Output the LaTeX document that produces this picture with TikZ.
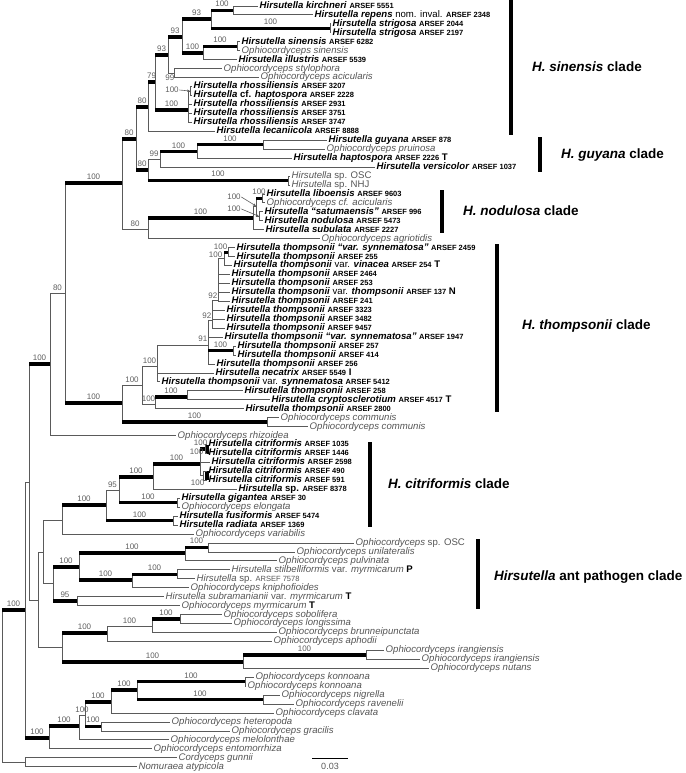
\documentclass[tikz,border=0pt]{standalone}
\definecolor{treeGray}{RGB}{90,90,90}
\definecolor{ophioGray}{RGB}{85,85,85}
\definecolor{supGray}{RGB}{95,95,95}
\usepackage{fontspec}
\setmainfont{Liberation Sans}
\usetikzlibrary{arrows.meta}
\newcommand{\hb}[1]{\textbf{\textit{#1}}}
\newcommand{\arsef}[1]{{\fontsize{7.5}{8}\selectfont\bfseries #1}}
\newcommand{\oph}[1]{{\color{ophioGray}\itshape #1}}
\newcommand{\gry}[1]{{\color{ophioGray}#1}}

\begin{document}
\begin{tikzpicture}[x=1pt, y=-1pt,
    br/.style={draw=treeGray, line width=0.9pt},
    thk/.style={draw=black, line width=3.2pt},
    leaf/.style={anchor=west, inner xsep=1.5pt, inner ysep=0pt, text height=6.8pt, text depth=2pt,
                 font=\fontsize{9.6}{10}\selectfont},
    bs/.style={font=\fontsize{8}{8}\selectfont, text=supGray, inner sep=0.5pt},
    lab/.style={bs, above=1.4pt},
    cladebar/.style={draw=black, line width=4pt},
    cladelab/.style={anchor=west, inner sep=0pt, font=\fontsize{13.5}{14}\selectfont\bfseries}
  ]
  \useasboundingbox (0,0) rectangle (685,773);

  % internal nodes
  \coordinate (root) at (2,685);   \coordinate (n1) at (25,610);    \coordinate (og) at (25,762);
  \coordinate (n2) at (29,482);    \coordinate (kon) at (49,738);   \coordinate (nB) at (50,364);
  \coordinate (nX) at (38,600);    \coordinate (nC) at (65,293);    \coordinate (nS) at (122,183);
  \coordinate (nTh) at (122,403);  \coordinate (n80a) at (136,139); \coordinate (nNod) at (148,229);
  \coordinate (n80b) at (148,107); \coordinate (nGuy) at (148,170); \coordinate (n79) at (155,82);
  \coordinate (nRho) at (188,110); \coordinate (n93a) at (168,55);  \coordinate (n93b) at (182,37);
  \coordinate (n99) at (174,73);   \coordinate (n93c) at (211,19);  \coordinate (n100s) at (203,53);
  \coordinate (nKir) at (233,10.5);\coordinate (nStr) at (330,28.4);\coordinate (nSin) at (237,46.3);
  \coordinate (nRh2) at (190,91);  \coordinate (n99g) at (160,159); \coordinate (nOSC) at (288,180.5);
  \coordinate (n100g) at (197,151.7); \coordinate (nGP) at (263,144.7);
  \coordinate (nN1) at (253,218);  \coordinate (nN2) at (256,206);  \coordinate (nN3) at (262,198.4);
  \coordinate (nN4) at (259,216.3);
  \coordinate (nT0) at (142,385);  \coordinate (nCom) at (267,422); \coordinate (nT) at (157,366);
  \coordinate (nT2) at (155,404);  \coordinate (nCry) at (187,397); \coordinate (n91) at (208,345);
  \coordinate (n92b) at (212,320); \coordinate (n257) at (233,350.6); \coordinate (n92a) at (218,300);
  \coordinate (nVin) at (224,258); \coordinate (nTop) at (228,252.1);
  \coordinate (n43) at (43,552);   \coordinate (n62b) at (62,647);  \coordinate (nCit) at (62,520);
  \coordinate (nAnt) at (53,583);  \coordinate (n106) at (106,505); \coordinate (n95) at (119,490);
  \coordinate (nFus) at (173,520.6); \coordinate (n153) at (153,477); \coordinate (nGig) at (177,502.7);
  \coordinate (n200) at (200,464); \coordinate (nC1) at (205,449);  \coordinate (nC2) at (203,475.9);
  \coordinate (n79a) at (79,567);  \coordinate (n95a) at (77,601);  \coordinate (n185) at (185,553);
  \coordinate (n132) at (132,580); \coordinate (nOSC2) at (208,547.5); \coordinate (n177) at (177,574.3);
  \coordinate (n107) at (107,633); \coordinate (n243) at (243,662); \coordinate (n152) at (152,626);
  \coordinate (n180) at (180,619); \coordinate (n366) at (366,654.9);
  \coordinate (n79k) at (79,726);  \coordinate (n85) at (85,715);   \coordinate (n111) at (111,702);
  \coordinate (n101) at (101,726.5); \coordinate (n137) at (137,690); \coordinate (nKon) at (245,681.7);
  \coordinate (nNig) at (263,699.6);

  % leaves: H. sinensis clade
  \node[leaf] (kirch) at (258,6) {\hb{Hirsutella kirchneri} \arsef{ARSEF 5551}};
  \node[leaf] (repens) at (313,14.95) {\hb{Hirsutella repens} nom. inval. \arsef{ARSEF 2348}};
  \node[leaf] (str1) at (331,23.9) {\hb{Hirsutella strigosa} \arsef{ARSEF 2044}};
  \node[leaf] (str2) at (331,32.85) {\hb{Hirsutella strigosa} \arsef{ARSEF 2197}};
  \node[leaf] (hsin) at (240,41.8) {\hb{Hirsutella sinensis} \arsef{ARSEF 6282}};
  \node[leaf] (osin) at (240,50.75) {\oph{Ophiocordyceps sinensis}};
  \node[leaf] (illu) at (237,59.7) {\hb{Hirsutella illustris} \arsef{ARSEF 5539}};
  \node[leaf] (styl) at (222,68.65) {\oph{Ophiocordyceps stylophora}};
  \node[leaf] (acic) at (259,77.6) {\oph{Ophiocordyceps acicularis}};
  \node[leaf] (rho1) at (192,86.55) {\hb{Hirsutella rhossiliensis} \arsef{ARSEF 3207}};
  \node[leaf] (chap) at (192,95.5) {\hb{Hirsutella} \textbf{cf.} \hb{haptospora} \arsef{ARSEF 2228}};
  \node[leaf] (rho2) at (192,104.45) {\hb{Hirsutella rhossiliensis} \arsef{ARSEF 2931}};
  \node[leaf] (rho3) at (192,113.4) {\hb{Hirsutella rhossiliensis} \arsef{ARSEF 3751}};
  \node[leaf] (rho4) at (192,122.35) {\hb{Hirsutella rhossiliensis} \arsef{ARSEF 3747}};
  \node[leaf] (leca) at (215,131.3) {\hb{Hirsutella lecaniicola} \arsef{ARSEF 8888}};
  % leaves: H. guyana clade
  \node[leaf] (guy) at (327,140.25) {\hb{Hirsutella guyana} \arsef{ARSEF 878}};
  \node[leaf] (prui) at (325,149.2) {\oph{Ophiocordyceps pruinosa}};
  \node[leaf] (hapt) at (292,158.15) {\hb{Hirsutella haptospora} \arsef{ARSEF 2226} \textbf{T}};
  \node[leaf] (vers) at (375,167.1) {\hb{Hirsutella versicolor} \arsef{ARSEF 1037}};
  \node[leaf] (hosc) at (290,176.05) {\gry{\textit{Hirsutella} sp. OSC}};
  \node[leaf] (hnhj) at (290,185) {\gry{\textit{Hirsutella} sp. NHJ}};
  % leaves: H. nodulosa clade
  \node[leaf] (libo) at (265,193.95) {\hb{Hirsutella liboensis} \arsef{ARSEF 9603}};
  \node[leaf] (oaci) at (265,202.9) {\oph{Ophiocordyceps cf. acicularis}};
  \node[leaf] (satu) at (263,211.85) {\hb{Hirsutella “satumaensis”} \arsef{ARSEF 996}};
  \node[leaf] (nodu) at (263,220.8) {\hb{Hirsutella nodulosa} \arsef{ARSEF 5473}};
  \node[leaf] (subu) at (264,229.75) {\hb{Hirsutella subulata} \arsef{ARSEF 2227}};
  \node[leaf] (agri) at (320,238.7) {\oph{Ophiocordyceps agriotidis}};
  % leaves: H. thompsonii clade
  \node[leaf] (th2459) at (235,247.65) {\hb{Hirsutella thompsonii “var. synnematosa”} \arsef{ARSEF 2459}};
  \node[leaf] (th255) at (235,256.6) {\hb{Hirsutella thompsonii} \arsef{ARSEF 255}};
  \node[leaf] (vina) at (232,265.55) {\hb{Hirsutella thompsonii} var. \hb{vinacea} \arsef{ARSEF 254} \textbf{T}};
  \node[leaf] (th2464) at (230,274.5) {\hb{Hirsutella thompsonii} \arsef{ARSEF 2464}};
  \node[leaf] (th253) at (230,283.45) {\hb{Hirsutella thompsonii} \arsef{ARSEF 253}};
  \node[leaf] (th137) at (230,292.4) {\hb{Hirsutella thompsonii} var. \hb{thompsonii} \arsef{ARSEF 137} \textbf{N}};
  \node[leaf] (th241) at (230,301.35) {\hb{Hirsutella thompsonii} \arsef{ARSEF 241}};
  \node[leaf] (th3323) at (225,310.3) {\hb{Hirsutella thompsonii} \arsef{ARSEF 3323}};
  \node[leaf] (th3482) at (225,319.25) {\hb{Hirsutella thompsonii} \arsef{ARSEF 3482}};
  \node[leaf] (th9457) at (225,328.2) {\hb{Hirsutella thompsonii} \arsef{ARSEF 9457}};
  \node[leaf] (th1947) at (223,337.15) {\hb{Hirsutella thompsonii “var. synnematosa”} \arsef{ARSEF 1947}};
  \node[leaf] (th257) at (236,346.1) {\hb{Hirsutella thompsonii} \arsef{ARSEF 257}};
  \node[leaf] (th414) at (236,355.05) {\hb{Hirsutella thompsonii} \arsef{ARSEF 414}};
  \node[leaf] (th256) at (215,364) {\hb{Hirsutella thompsonii} \arsef{ARSEF 256}};
  \node[leaf] (neca) at (214,372.95) {\hb{Hirsutella necatrix} \arsef{ARSEF 5549} \textbf{I}};
  \node[leaf] (th5412) at (160,381.9) {\hb{Hirsutella thompsonii} var. \hb{synnematosa} \arsef{ARSEF 5412}};
  \node[leaf] (th258) at (243,390.85) {\hb{Hirsutella thompsonii} \arsef{ARSEF 258}};
  \node[leaf] (cryp) at (270,399.8) {\hb{Hirsutella cryptosclerotium} \arsef{ARSEF 4517} \textbf{T}};
  \node[leaf] (th2800) at (244,408.75) {\hb{Hirsutella thompsonii} \arsef{ARSEF 2800}};
  \node[leaf] (com1) at (279,417.7) {\oph{Ophiocordyceps communis}};
  \node[leaf] (com2) at (308,426.65) {\oph{Ophiocordyceps communis}};
  \node[leaf] (rhiz) at (176,435.6) {\oph{Ophiocordyceps rhizoidea}};
  % leaves: H. citriformis clade
  \node[leaf] (ci1035) at (207,444.55) {\hb{Hirsutella citriformis} \arsef{ARSEF 1035}};
  \node[leaf] (ci1446) at (207,453.5) {\hb{Hirsutella citriformis} \arsef{ARSEF 1446}};
  \node[leaf] (ci2598) at (210,462.45) {\hb{Hirsutella citriformis} \arsef{ARSEF 2598}};
  \node[leaf] (ci490) at (207,471.4) {\hb{Hirsutella citriformis} \arsef{ARSEF 490}};
  \node[leaf] (ci591) at (207,480.35) {\hb{Hirsutella citriformis} \arsef{ARSEF 591}};
  \node[leaf] (hsp8378) at (237,489.3) {\hb{Hirsutella} \textbf{sp.} \arsef{ARSEF 8378}};
  \node[leaf] (giga) at (180,498.25) {\hb{Hirsutella gigantea} \arsef{ARSEF 30}};
  \node[leaf] (elon) at (180,507.2) {\oph{Ophiocordyceps elongata}};
  \node[leaf] (fusi) at (178,516.15) {\hb{Hirsutella fusiformis} \arsef{ARSEF 5474}};
  \node[leaf] (radi) at (178,525.1) {\hb{Hirsutella radiata} \arsef{ARSEF 1369}};
  \node[leaf] (vari) at (194,534.05) {\oph{Ophiocordyceps variabilis}};
  % leaves: ant pathogens
  \node[leaf] (oosc) at (354,543) {\gry{\textit{Ophiocordyceps} sp. OSC}};
  \node[leaf] (unil) at (295,551.95) {\oph{Ophiocordyceps unilateralis}};
  \node[leaf] (pulv) at (277,560.9) {\oph{Ophiocordyceps pulvinata}};
  \node[leaf] (stil) at (230,569.85) {\gry{\textit{Hirsutella stilbelliformis} var. \textit{myrmicarum}} \textbf{P}};
  \node[leaf] (hsp7578) at (195,578.8) {\gry{\textit{Hirsutella} sp. {\fontsize{7.5}{8}\selectfont ARSEF 7578}}};
  \node[leaf] (knip) at (189,587.75) {\oph{Ophiocordyceps kniphofioides}};
  \node[leaf] (subr) at (164,596.7) {\gry{\textit{Hirsutella subramanianii} var. \textit{myrmicarum}} \textbf{T}};
  \node[leaf] (myrm) at (180,605.65) {\oph{Ophiocordyceps myrmicarum} \textbf{T}};
  % leaves: remaining Ophiocordyceps
  \node[leaf] (sobo) at (222,614.6) {\oph{Ophiocordyceps sobolifera}};
  \node[leaf] (long) at (232,623.55) {\oph{Ophiocordyceps longissima}};
  \node[leaf] (brun) at (277,632.5) {\oph{Ophiocordyceps brunneipunctata}};
  \node[leaf] (apho) at (272,641.45) {\oph{Ophiocordyceps aphodii}};
  \node[leaf] (ira1) at (384,650.4) {\oph{Ophiocordyceps irangiensis}};
  \node[leaf] (ira2) at (420,659.35) {\oph{Ophiocordyceps irangiensis}};
  \node[leaf] (nuta) at (429,668.3) {\oph{Ophiocordyceps nutans}};
  \node[leaf] (kon1) at (254,677.25) {\oph{Ophiocordyceps konnoana}};
  \node[leaf] (kon2) at (246,686.2) {\oph{Ophiocordyceps konnoana}};
  \node[leaf] (nigr) at (280,695.15) {\oph{Ophiocordyceps nigrella}};
  \node[leaf] (rave) at (294,704.1) {\oph{Ophiocordyceps ravenelii}};
  \node[leaf] (clav) at (274,713.05) {\oph{Ophiocordyceps clavata}};
  \node[leaf] (hete) at (170,722) {\oph{Ophiocordyceps heteropoda}};
  \node[leaf] (grac) at (230,730.95) {\oph{Ophiocordyceps gracilis}};
  \node[leaf] (melo) at (169,739.9) {\oph{Ophiocordyceps melolonthae}};
  \node[leaf] (ento) at (152,748.85) {\oph{Ophiocordyceps entomorrhiza}};
  \node[leaf] (gunn) at (177,757.8) {\oph{Cordyceps gunnii}};
  \node[leaf] (nomu) at (137,766.75) {\oph{Nomuraea atypicola}};

  % backbone
  \draw[br] (root) |- (n1); \draw[thk] (root |- n1) -- node[lab]{100} (n1);
  \draw[br] (root) |- (og); \draw[br] (og) |- (gunn.west); \draw[br] (og) |- (nomu.west);
  \draw[br] (n1) |- (n2);
  \draw[br] (n1) |- (kon); \draw[thk] (n1 |- kon) -- node[lab]{100} (kon);
  \draw[br] (n2) |- (nB); \draw[thk] (n2 |- nB) -- node[lab]{100} (nB);
  \draw[br] (n2) |- (nX);
  \draw[br] (nB) |- node[lab, pos=.75]{80} (nC); \draw[br] (nB) |- (rhiz.west);
  \draw[br] (nC) |- (nS); \draw[thk] (nC |- nS) -- node[lab]{100} (nS);
  \draw[br] (nC) |- (nTh); \draw[thk] (nC |- nTh) -- node[lab]{100} (nTh);

  % sinensis / guyana / nodulosa
  \draw[br] (nS) |- (n80a); \draw[thk] (nS |- n80a) -- node[lab]{80} (n80a);
  \draw[br] (nS) |- node[lab, pos=.75]{80} (nNod);
  \draw[br] (n80a) |- (n80b); \draw[thk] (n80a |- n80b) -- node[lab]{80} (n80b);
  \draw[br] (n80a) |- (nGuy); \draw[thk] (n80a |- nGuy) -- node[lab]{80} (nGuy);
  \draw[br] (n80b) |- (n79); \draw[thk] (n80b |- n79) -- node[lab]{79} (n79);
  \draw[br] (n80b) |- (leca.west);
  \draw[br] (n79) |- (n93a); \draw[thk] (n79 |- n93a) -- node[lab]{93} (n93a);
  \draw[br] (n79) |- (nRho); \draw[thk] (n79 |- nRho) -- node[lab]{100} (nRho);
  \draw[br] (n93a) |- (n93b); \draw[thk] (n93a |- n93b) -- node[lab]{93} (n93b);
  \draw[br] (n93a) |- (n99); \node[bs, anchor=north east] (l99) at (175,74.5) {99};
  \draw[br] (n93b) |- (n93c); \draw[thk] (n93b |- n93c) -- node[lab]{93} (n93c);
  \draw[br] (n93b) |- (n100s); \draw[thk] (n93b |- n100s) -- node[lab]{100} (n100s);
  \draw[br] (n93c) |- (nKir); \draw[thk] (n93c |- nKir) -- node[lab]{100} (nKir);
  \draw[br] (n93c) |- (nStr); \draw[thk] (n93c |- nStr) -- node[lab]{100} (nStr);
  \draw[br] (nKir) |- (kirch.west); \draw[br] (nKir) |- (repens.west);
  \draw[br] (nStr) |- (str1.west); \draw[br] (nStr) |- (str2.west);
  \draw[br] (n100s) |- (nSin); \draw[thk] (n100s |- nSin) -- node[lab]{100} (nSin);
  \draw[br] (n100s) |- (illu.west);
  \draw[br] (nSin) |- (hsin.west); \draw[br] (nSin) |- (osin.west);
  \draw[br] (n99) |- (styl.west); \draw[br] (n99) |- (acic.west);
  \draw[br] (nRho) |- (nRh2); \draw[br] (nRho) |- (rho2.west); \draw[br] (nRho) |- (rho3.west);
  \draw[br] (nRho) |- (rho4.west);
  \draw[br] (nRh2) |- (rho1.west); \draw[br] (nRh2) |- (chap.west);
  \node[bs] (lrho) at (172,90) {100};
  \draw[-{Stealth[length=3pt,width=2.5pt]}, supGray, line width=0.6pt] (lrho.east) -- (nRh2);
  \draw[br] (nGuy) |- node[lab, pos=.75]{99} (n99g);
  \draw[br] (nGuy) |- (nOSC); \draw[thk] (nGuy |- nOSC) -- node[lab]{100} (nOSC);
  \draw[br] (n99g) |- (n100g); \draw[thk] (n99g |- n100g) -- node[lab]{100} (n100g);
  \draw[br] (n99g) |- (vers.west);
  \draw[br] (n100g) |- (nGP); \draw[thk] (n100g |- nGP) -- node[lab]{100} (nGP);
  \draw[br] (n100g) |- (hapt.west);
  \draw[br] (nGP) |- (guy.west); \draw[br] (nGP) |- (prui.west);
  \draw[br] (nOSC) |- (hosc.west); \draw[br] (nOSC) |- (hnhj.west);
  \draw[br] (nNod) |- (nN1); \draw[thk] (nNod |- nN1) -- node[lab]{100} (nN1);
  \draw[br] (nNod) |- (agri.west);
  \draw[br] (nN1) |- (nN2); \draw[br] (nN1) |- (subu.west);
  \draw[br] (nN2) |- (nN3); \draw[thk] (nN2 |- nN3) -- node[lab]{100} (nN3);
  \draw[br] (nN2) |- (nN4);
  \draw[br] (nN3) |- (libo.west); \draw[br] (nN3) |- (oaci.west);
  \draw[br] (nN4) |- (satu.west); \draw[br] (nN4) |- (nodu.west);
  \node[bs] (lnod1) at (234,197) {100}; \node[bs] (lnod2) at (234,209) {100};
  \draw[-{Stealth[length=3pt,width=2.5pt]}, supGray, line width=0.6pt] (lnod1.east) -- (nN2);
  \draw[-{Stealth[length=3pt,width=2.5pt]}, supGray, line width=0.6pt] (lnod2.east) -- (nN4);

  % thompsonii
  \draw[br] (nTh) |- node[lab, pos=.75]{100} (nT0);
  \draw[br] (nTh) |- (nCom); \draw[thk] (nTh |- nCom) -- node[lab]{100} (nCom);
  \draw[br] (nCom) |- (com1.west); \draw[br] (nCom) |- (com2.west);
  \draw[br] (nT0) |- node[lab, pos=.75]{100} (nT);
  \draw[br] (nT0) |- node[lab, pos=.75]{100} (nT2);
  \draw[br] (nT2) |- (nCry); \draw[thk] (nT2 |- nCry) -- node[bs, above=1.2pt]{100} (nCry);
  \draw[br] (nT2) |- (th2800.west);
  \draw[br] (nCry) |- (th258.west); \draw[br] (nCry) |- (cryp.west);
  \draw[br] (nT) |- (n91); \draw[br] (nT) |- (neca.west); \draw[br] (nT) |- (th5412.west);
  \node[bs, anchor=south east] (l91) at (208,342) {91};
  \draw[br] (n91) |- (n92b); \node[bs, anchor=south east] (l92b) at (212,319) {92};
  \draw[br] (n91) |- (th1947.west); \draw[br] (n91) |- (th256.west);
  \draw[br] (n91) |- (n257); \draw[thk] (n91 |- n257) -- node[lab]{100} (n257);
  \draw[br] (n257) |- (th257.west); \draw[br] (n257) |- (th414.west);
  \draw[br] (n92b) |- (n92a); \node[bs, anchor=south east] (l92a) at (218,299) {92};
  \draw[br] (n92b) |- (th3323.west); \draw[br] (n92b) |- (th3482.west); \draw[br] (n92b) |- (th9457.west);
  \draw[br] (n92a) |- (nVin); \draw[br] (n92a) |- (th2464.west); \draw[br] (n92a) |- (th253.west);
  \draw[br] (n92a) |- (th137.west); \draw[br] (n92a) |- (th241.west);
  \draw[br] (nVin) |- (nTop); \draw[thk] (nVin |- nTop) -- (nTop); \draw[br] (nVin) |- (vina.west);
  \draw[br] (nTop) |- (th2459.west); \draw[br] (nTop) |- (th255.west);
  \node[bs, anchor=south east] (ltop) at (228,250) {100};
  \node[bs, anchor=south east] (lvin) at (223,258) {100};

  % citriformis
  \draw[br] (nX) |- (n43); \draw[br] (nX) |- (n62b);
  \draw[br] (n43) |- (nCit); \draw[br] (n43) |- (nAnt);
  \draw[br] (nCit) |- (n106); \draw[thk] (nCit |- n106) -- node[lab]{100} (n106);
  \draw[br] (nCit) |- (vari.west);
  \draw[br] (n106) |- node[lab, pos=.75]{95} (n95);
  \draw[br] (n106) |- (nFus); \draw[thk] (n106 |- nFus) -- node[lab]{100} (nFus);
  \draw[br] (nFus) |- (fusi.west); \draw[br] (nFus) |- (radi.west);
  \draw[br] (n95) |- (n153); \draw[thk] (n95 |- n153) -- node[lab]{100} (n153);
  \draw[br] (n95) |- (nGig); \draw[thk] (n95 |- nGig) -- node[lab]{100} (nGig);
  \draw[br] (nGig) |- (giga.west); \draw[br] (nGig) |- (elon.west);
  \draw[br] (n153) |- (n200); \draw[thk] (n153 |- n200) -- node[lab]{100} (n200);
  \draw[br] (n153) |- (hsp8378.west);
  \draw[br] (n200) |- (nC1); \draw[thk] (n200 |- nC1) -- (nC1);
  \draw[br] (n200) |- (ci2598.west); \draw[br] (n200) |- (nC2);
  \draw[thk] (ci1035.west) -- (ci1446.west);
  \draw[br] (nC1) |- (ci1035.west); \draw[br] (nC1) |- (ci1446.west);
  \draw[thk] (ci490.west) -- (ci591.west);
  \draw[br] (nC2) |- (ci490.west); \draw[br] (nC2) |- (ci591.west);
  \node[bs, anchor=south east] (lc1a) at (208,446) {100};
  \node[bs, anchor=east] (lc1b) at (204,451.5) {100};
  \node[bs, anchor=north east] (lc2) at (205,479) {100};

  % ant pathogens
  \draw[br] (nAnt) |- (n79a); \draw[thk] (nAnt |- n79a) -- node[lab]{100} (n79a);
  \draw[br] (nAnt) |- (n95a); \draw[thk] (nAnt |- n95a) -- node[lab]{95} (n95a);
  \draw[br] (n95a) |- (subr.west); \draw[br] (n95a) |- (myrm.west);
  \draw[br] (n79a) |- (n185); \draw[thk] (n79a |- n185) -- node[lab]{100} (n185);
  \draw[br] (n79a) |- (n132); \draw[thk] (n79a |- n132) -- node[lab]{100} (n132);
  \draw[br] (n185) |- (nOSC2); \draw[thk] (n185 |- nOSC2) -- node[lab]{100} (nOSC2);
  \draw[br] (n185) |- (pulv.west);
  \draw[br] (nOSC2) |- (oosc.west); \draw[br] (nOSC2) |- (unil.west);
  \draw[br] (n132) |- (n177); \draw[thk] (n132 |- n177) -- node[lab]{100} (n177);
  \draw[br] (n132) |- (knip.west);
  \draw[br] (n177) |- (stil.west); \draw[br] (n177) |- (hsp7578.west);

  % other Ophiocordyceps
  \draw[br] (n62b) |- (n107); \draw[thk] (n62b |- n107) -- node[lab]{100} (n107);
  \draw[br] (n62b) |- (n243); \draw[thk] (n62b |- n243) -- node[lab]{100} (n243);
  \draw[br] (n107) |- node[lab, pos=.75]{100} (n152); \draw[br] (n107) |- (apho.west);
  \draw[br] (n152) |- (n180); \draw[thk] (n152 |- n180) -- node[lab]{100} (n180);
  \draw[br] (n152) |- (brun.west);
  \draw[br] (n180) |- (sobo.west); \draw[br] (n180) |- (long.west);
  \draw[br] (n243) |- (n366); \draw[thk] (n243 |- n366) -- node[lab]{100} (n366);
  \draw[br] (n243) |- (nuta.west);
  \draw[br] (n366) |- (ira1.west); \draw[br] (n366) |- (ira2.west);
  \draw[br] (kon) |- (n79k); \draw[thk] (kon |- n79k) -- node[lab]{100} (n79k);
  \draw[br] (kon) |- (ento.west);
  \draw[br] (n79k) |- node[lab, pos=.75]{100} (n85); \draw[br] (n79k) |- (melo.west);
  \draw[br] (n85) |- (n111); \draw[thk] (n85 |- n111) -- node[lab]{100} (n111);
  \draw[br] (n85) |- (n101); \draw[thk] (n85 |- n101) -- node[lab]{100} (n101);
  \draw[br] (n101) |- (hete.west); \draw[br] (n101) |- (grac.west);
  \draw[br] (n111) |- (n137); \draw[thk] (n111 |- n137) -- node[lab]{100} (n137);
  \draw[br] (n111) |- (clav.west);
  \draw[br] (n137) |- (nKon); \draw[thk] (n137 |- nKon) -- node[lab]{100} (nKon);
  \draw[br] (n137) |- (nNig); \draw[thk] (n137 |- nNig) -- node[lab]{100} (nNig);
  \draw[br] (nKon) |- (kon1.west); \draw[br] (nKon) |- (kon2.west);
  \draw[br] (nNig) |- (nigr.west); \draw[br] (nNig) |- (rave.west);

  % clade bars
  \coordinate (sinA) at (511,0);   \coordinate (sinB) at (511,135);
  \coordinate (guyA) at (540,137); \coordinate (guyB) at (540,172);
  \coordinate (nodA) at (442,190); \coordinate (nodB) at (442,233);
  \coordinate (thA) at (497,244);  \coordinate (thB) at (497,412);
  \coordinate (citA) at (370,442); \coordinate (citB) at (370,527);
  \coordinate (antA) at (478,539); \coordinate (antB) at (478,609);
  \draw[cladebar] (sinA) -- (sinB); \draw[cladebar] (guyA) -- (guyB);
  \draw[cladebar] (nodA) -- (nodB); \draw[cladebar] (thA) -- (thB);
  \draw[cladebar] (citA) -- (citB); \draw[cladebar] (antA) -- (antB);
  \node[cladelab] (sinL) at (532,67) {\textit{H. sinensis} clade};
  \node[cladelab] (guyL) at (561,155) {\textit{H. guyana} clade};
  \node[cladelab] (nodL) at (463,211) {\textit{H. nodulosa} clade};
  \node[cladelab] (thL) at (522,326) {\textit{H. thompsonii} clade};
  \node[cladelab] (citL) at (388,484) {\textit{H. citriformis} clade};
  \node[cladelab] (antL) at (494,577) {\textit{Hirsutella} ant pathogen clade};

  % scale bar
  \coordinate (sb1) at (312,758); \coordinate (sb2) at (348,758);
  \draw[br, draw=black] (sb1) -- node[below=1.5pt, font=\fontsize{9}{9}\selectfont, text=treeGray] (sbl) {0.03} (sb2);
\end{tikzpicture}
\end{document}
